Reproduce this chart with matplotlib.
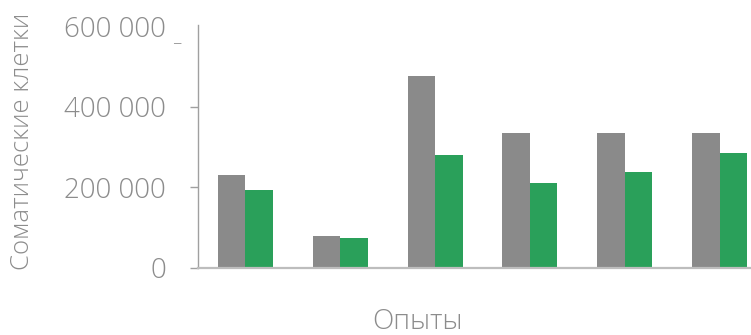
import numpy as np
import matplotlib
matplotlib.use("Agg")
import matplotlib.pyplot as plt

# data
groups = ["1", "2", "3", "4", "5", "6"]
before = [230000, 79000, 476000, 335000, 335000, 335000]
after = [193000, 74000, 280000, 210000, 238000, 285000]
yticks = [0, 200000, 400000, 600000]
ytick_labels = ["0", "200 000", "400 000", "600 000"]

GRAY = "#8a8a8a"
GREEN = "#2aa05a"
TEXT = "#8c8c8c"

plt.rcParams["font.family"] = ["Open Sans", "DejaVu Sans"]

fig = plt.figure(figsize=(7.51, 3.35), dpi=100)
ax = fig.add_axes([198 / 751, 67.3 / 335, 569 / 751, 241.5 / 335])

x = np.arange(len(groups))
w = 0.29
ax.bar(x - w / 2, before, w, color=GRAY, zorder=2)
ax.bar(x + w / 2, after, w, color=GREEN, zorder=2)

ax.set_xlim(-0.5, 5.5)
ax.set_ylim(0, 600000)
ax.set_yticks(yticks)
ax.set_yticklabels(ytick_labels, fontsize=20, color=TEXT, fontweight="light")
ax.set_xticks([])
ax.tick_params(axis="y", length=6, width=1, color="#a0a0a0", pad=17)
ax.yaxis.get_major_ticks()[-1].tick1line.set_visible(False)

for side in ["top", "right"]:
    ax.spines[side].set_visible(False)
ax.spines["left"].set_color("#a0a0a0")
ax.spines["left"].set_linewidth(1)
ax.spines["left"].set_bounds(0, 604000)
ax.spines["bottom"].set_color("#bdbdbd")
ax.spines["bottom"].set_linewidth(1.6)

fig.text(177 / 751, 1 - 36 / 335, "_", fontsize=13, color=TEXT,
         ha="center", va="center", fontweight="light")
fig.text(22 / 751, 1 - 141 / 335, "Соматические клетки", rotation=90,
         fontsize=18.5, color=TEXT, ha="center", va="center", fontweight="light")
fig.text(418 / 751, 1 - 322 / 335, "Опыты", fontsize=20, color=TEXT,
         ha="center", va="center", fontweight="light")

fig.savefig("out.png", dpi=100)
